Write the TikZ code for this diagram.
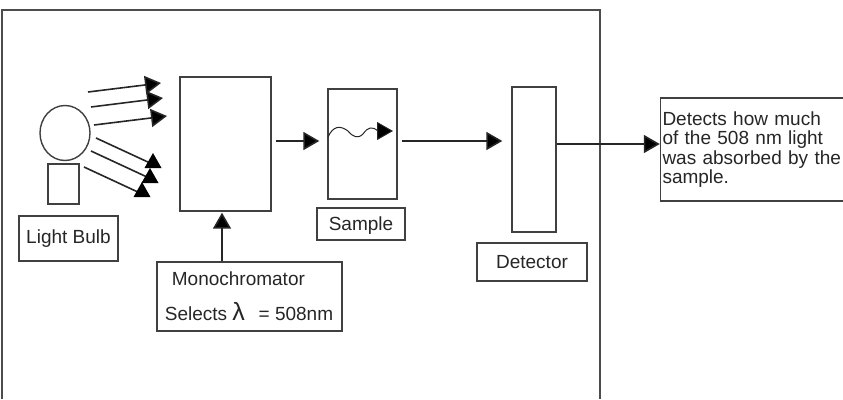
\documentclass[tikz,border=0pt]{standalone}
\usepackage{fontspec}
\setmainfont{Liberation Sans}
\usetikzlibrary{arrows.meta,shapes.geometric}
\def\headup(#1){\fill[black] (#1) -- ++(-8.5, 15) -- ++(17, 0) -- cycle;}
\tikzset{
	box/.style={draw=black!75, line width=1.4pt, inner sep=0pt, text=black!85, font=\fontsize{19}{19.5}\selectfont},
	ray/.style={draw=black!85, line width=1.6pt, -{Triangle[length=16pt, width=18pt, fill=black]}, shorten <=4pt},
	bare/.style={draw=black!85, line width=1.6pt}
}
\begin{document}
\begin{tikzpicture}[x=1pt, y=-1pt]
		%%%%% START %%%%%
		\useasboundingbox (0, 0) rectangle (843, 399);
		\fill[white] (0, 0) rectangle (843, 399);

		\draw[draw=black!70, line width=2.2pt] (2, 399) -- (2, 10) -- (600, 10) -- (600, 399);

		% bulb
		\node[box, ellipse, minimum width=50pt, minimum height=55pt] (bulb) at (65, 133) {};
		\node[box, minimum width=31pt, minimum height=40pt] (base) at (63.5, 184) {};
		\node[box, minimum width=99pt, minimum height=45pt] (bulblabel) at (68.5, 238.5) {Light Bulb};

		% boxes
		\node[box, minimum width=91pt, minimum height=134pt] (mono) at (225.5, 144) {};
		\node[box, minimum width=69pt, minimum height=110pt] (sample) at (362.5, 144) {};
		\node[box, minimum width=44pt, minimum height=145pt] (detector) at (534, 159.5) {};

		% labels
		\node[box, minimum width=88pt, minimum height=32pt, text depth=0pt] (samplelabel) at (361, 224) {Sample};
		\node[box, minimum width=110pt, minimum height=38pt] (detectorlabel) at (532, 262) {Detector};
		\node[box, minimum width=185pt, minimum height=69pt, align=left, font=\fontsize{19}{35}\selectfont] (monolabel) at (249.5, 296.5)
			{\hspace*{6pt}Monochromator\\\hspace*{-1pt}Selects {\fontsize{25}{25}\selectfont λ}\ \ \,= 508nm};
		\node[box, minimum width=184pt, minimum height=103pt, text width=180pt, align=left] (result) at (752.5, 149.5)
			{Detects how much\\of the 508 nm light\\was absorbed by the\\sample.\\[3pt]};

		% rays from the bulb
		\coordinate (rayas) at (88, 92);
		\coordinate (raya) at (161, 83);
		\coordinate (raybs) at (91, 107);
		\coordinate (rayb) at (163, 98);
		\coordinate (raycs) at (94, 125);
		\coordinate (rayc) at (167, 116);
		\coordinate (rayds) at (96, 138);
		\coordinate (rayd) at (150, 163);
		\coordinate (rayes) at (91, 151);
		\coordinate (raye) at (147, 177);
		\coordinate (rayfs) at (84, 167);
		\coordinate (rayf) at (140, 193);
		\draw[ray, shorten <=0pt] (rayas) -- (raya);
		\draw[ray, shorten <=0pt] (raybs) -- (rayb);
		\draw[ray, shorten <=0pt] (raycs) -- (rayc);
		\draw[bare] (rayds) -- (rayd);
		\draw[bare] (rayes) -- (raye);
		\draw[bare] (rayfs) -- (rayf);
		\coordinate (headd) at (153, 153);
		\coordinate (heade) at (150, 168);
		\coordinate (headf) at (142, 182);
		\headup(headd)
		\headup(heade)
		\headup(headf)

		% beam
		\coordinate (beam) at (0, 141);
		\coordinate (out) at (0, 144);
		\coordinate (lift) at (222, 0);
		\draw[ray, shorten >=8pt] (mono.east |- beam) -- (sample.west |- beam);
		\draw[ray, shorten >=9pt] (sample.east |- beam) -- (detector.west |- beam);
		\draw[ray, shorten <=0pt] (detector.east |- out) -- (result.west |- out);
		\draw[ray, shorten <=0pt, shorten >=1pt] (monolabel.north -| lift) -- (mono.south -| lift);

		% wave in the sample
		\coordinate (wavestart) at (328, 137);
		\coordinate (waveend) at (393, 131);
		\draw[ray, line width=1pt, shorten <=0pt] (wavestart) .. controls (333, 126) and (340, 125) .. (348, 131)
			.. controls (353, 137) and (358, 139) .. (363, 134)
			.. controls (368, 127) and (372, 126) .. (378, 131) -- (waveend);
		%%%%% END %%%%%
	\end{tikzpicture}
\end{document}
